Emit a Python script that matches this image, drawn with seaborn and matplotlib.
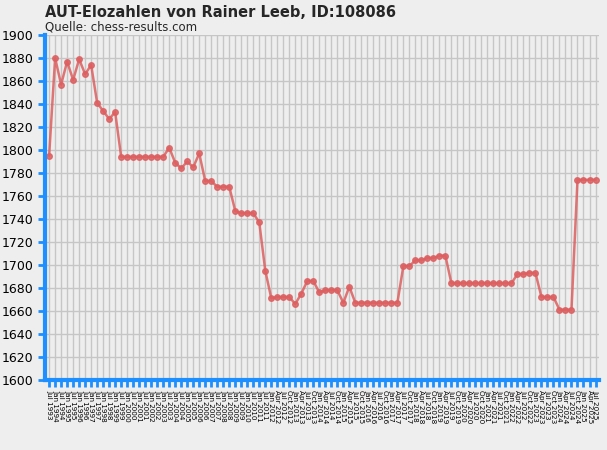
import matplotlib
matplotlib.use("Agg")
import matplotlib.pyplot as plt
import seaborn as sns
import numpy as np
import pandas as pd

# Elo values per rating list (Jul 1993 .. Jul 2025)
elo = [1795, 1880, 1857, 1877, 1861, 1879, 1866, 1874, 1841, 1834,
       1827, 1833, 1794, 1794, 1794, 1794, 1794, 1794, 1794, 1794,
       1802, 1789, 1784, 1790, 1785, 1797, 1773, 1773, 1768, 1768,
       1768, 1747, 1745, 1745, 1745, 1737, 1695, 1671, 1672, 1672,
       1672, 1666, 1675, 1686, 1686, 1676, 1678, 1678, 1678, 1667,
       1681, 1667, 1667, 1667, 1667, 1667, 1667, 1667, 1667, 1699,
       1699, 1704, 1704, 1706, 1706, 1708, 1708, 1684, 1684, 1684,
       1684, 1684, 1684, 1684, 1684, 1684, 1684, 1684, 1692, 1692,
       1693, 1693, 1672, 1672, 1672, 1661, 1661, 1661, 1774, 1774,
       1774, 1774]

# rating list dates: half-yearly until Jan 2012, then quarterly
dates = []
for year in range(1993, 2012):
    if year > 1993:
        dates.append(f"Jan {year}")
    dates.append(f"Jul {year}")
dates.append("Jan 2012")
for year in range(2012, 2026):
    for m in ["Jan", "Apr", "Jul", "Oct"]:
        if year == 2012 and m == "Jan":
            continue
        if year == 2025 and m == "Oct":
            continue
        dates.append(f"{m} {year}")

df = pd.DataFrame({"pos": np.arange(len(elo)), "elo": elo, "date": dates})

bg = "#EEEEEE"
blue = "#1E8FFF"
red = "#DD5F60"

sns.set_theme(style="whitegrid")
plt.rcParams["font.family"] = ["DejaVu Sans"]

fig = plt.figure(figsize=(6.07, 4.5), dpi=100, facecolor=bg)
ax = fig.add_axes([0.074, 0.156, 0.913, 0.766])
ax.set_facecolor(bg)

sns.lineplot(data=df, x="pos", y="elo", ax=ax, color=red, linewidth=1.8,
             marker="o", markersize=4, markeredgewidth=1,
             markeredgecolor=red, alpha=0.85)

ax.set_xlim(-0.7, len(elo) - 0.4)
ax.set_ylim(1600, 1900)
ax.set_yticks(np.arange(1600, 1901, 20))
ax.set_xticks(df["pos"])
ax.set_xticklabels(df["date"], rotation=-90, fontsize=5.2)
ax.tick_params(axis="y", labelsize=9, colors=blue, labelcolor="black",
               length=5, width=2, direction="out", left=True)
ax.tick_params(axis="x", colors=blue, labelcolor="black", length=5,
               width=2, direction="out", bottom=True, pad=2)
ax.grid(True, color="#C6C6C6", linewidth=1)
ax.set_xlabel("")
ax.set_ylabel("")

for s in ["top", "right"]:
    ax.spines[s].set_visible(False)
for s in ["left", "bottom"]:
    ax.spines[s].set_color(blue)
    ax.spines[s].set_linewidth(3)

fig.text(0.074, 0.972, "AUT-Elozahlen von Rainer Leeb, ID:108086",
         fontsize=10.5, fontweight="bold", va="center", ha="left")
fig.text(0.074, 0.94, "Quelle: chess-results.com", fontsize=8.5,
         va="center", ha="left")

fig.savefig("out.png", dpi=100, facecolor=bg)
